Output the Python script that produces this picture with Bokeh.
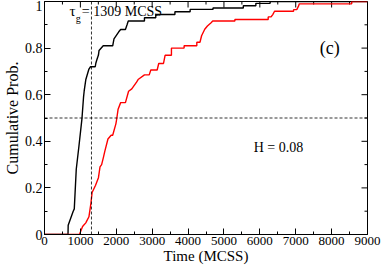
import math
from bokeh.plotting import figure
from bokeh.models import Span, Range1d, FixedTicker, Label
from bokeh.embed import file_html
from bokeh.resources import INLINE

# ---- data ----
black_t = [0, 655, 660, 800, 830, 885, 960, 1043, 1088, 1105, 1150, 1238, 1283, 1414,
           1430, 1459, 1503, 1520, 1636, 1900, 1936, 2069, 2122, 2255, 2300, 2334,
           2785, 2785, 3100, 3100, 3634, 3634, 4058, 4058, 4695, 4695, 5540, 5540,
           5889, 5889, 6287, 6287, 9000]
black_p = [0, 0, 0.04, 0.10, 0.11, 0.28, 0.38, 0.496, 0.59, 0.615, 0.664, 0.71, 0.72, 0.72,
           0.735, 0.75, 0.77, 0.79, 0.81, 0.81, 0.84, 0.87, 0.88, 0.88, 0.90, 0.916,
           0.916, 0.93, 0.93, 0.944, 0.944, 0.956, 0.956, 0.966, 0.966, 0.972, 0.972, 0.982,
           0.982, 0.992, 0.992, 1.0, 1.0]

red_t = [0, 973, 1061, 1150, 1238, 1290, 1326, 1420, 1503, 1547, 1592, 1640, 1680, 1768,
         1857, 1900, 1989, 2016, 2051, 2122, 2255, 2343, 2432, 2565, 2608, 2785, 2918,
         2962, 3139, 3183, 3316, 3360, 3537, 3537, 3890, 3890, 4244, 4244, 4332, 4377,
         4465, 4540, 4642, 4687, 5305, 5305, 6233, 6233, 6313, 6360, 6410, 6940, 6940,
         7029, 7074, 7100, 8560, 8560, 9000]
red_p = [0, 0, 0.034, 0.05, 0.076, 0.13, 0.18, 0.21, 0.244, 0.29, 0.30, 0.33, 0.357, 0.41,
         0.426, 0.426, 0.475, 0.50, 0.538, 0.566, 0.566, 0.615, 0.625, 0.654, 0.665, 0.685, 0.685,
         0.706, 0.706, 0.734, 0.734, 0.769, 0.769, 0.80, 0.80, 0.81, 0.81, 0.825, 0.825, 0.853,
         0.881, 0.895, 0.909, 0.916, 0.916, 0.923, 0.923, 0.934, 0.934, 0.944, 0.958, 0.958, 0.965,
         0.965, 0.979, 0.99, 0.99, 1.0, 1.0]

x_ticks = [0, 1000, 2000, 3000, 4000, 5000, 6000, 7000, 8000, 9000]
y_ticks = [0, 0.2, 0.4, 0.6, 0.8, 1.0]
y_tick_labels = ["0", "0.2", "0.4", "0.6", "0.8", "1"]

tau_g = 1309
half_level = 0.5
H_value = 0.08
panel_tag = "(c)"

FONT = "Liberation Serif"
X_MIN, X_MAX = x_ticks[0], x_ticks[-1]
Y_MIN, Y_MAX = y_ticks[0], y_ticks[-1]

p = figure(width=382, height=266, x_range=Range1d(X_MIN, X_MAX), y_range=Range1d(Y_MIN, Y_MAX),
           output_backend="svg", toolbar_location=None,
           min_border_left=33, min_border_right=15, min_border_top=1, min_border_bottom=31)
p.xgrid.visible = False
p.ygrid.visible = False
p.outline_line_color = "black"
p.outline_line_width = 1
p.background_fill_color = "white"
p.border_fill_color = "white"

x_minor = [(a + b) / 2 for a, b in zip(x_ticks[:-1], x_ticks[1:])]
y_minor = [round((a + b) / 2, 3) for a, b in zip(y_ticks[:-1], y_ticks[1:])]
xt = FixedTicker(ticks=x_ticks, minor_ticks=x_minor)
yt = FixedTicker(ticks=y_ticks, minor_ticks=y_minor)

def style(ax, size, title_size):
    ax.major_tick_in = 6
    ax.major_tick_out = 0
    ax.minor_tick_in = 3
    ax.minor_tick_out = 0
    ax.axis_line_color = "black"
    ax.major_tick_line_color = "black"
    ax.minor_tick_line_color = "black"
    ax.major_label_text_font = FONT
    ax.major_label_text_color = "black"
    ax.major_label_text_font_size = size
    ax.major_label_standoff = 2
    ax.axis_label_text_font = FONT
    ax.axis_label_text_font_style = "normal"
    ax.axis_label_text_color = "black"
    ax.axis_label_text_font_size = title_size

xa = p.xaxis[0]
xa.ticker = xt
xa.axis_label = "Time (MCSS)"
xa.axis_label_standoff = 0
style(xa, "13px", "15px")

ya = p.yaxis[0]
ya.ticker = yt
ya.axis_label = "Cumulative Prob."
ya.axis_label_standoff = 1
ya.major_label_overrides = {t: s for t, s in zip(y_ticks, y_tick_labels)}
style(ya, "14px", "16px")

# mirrored inward ticks on the top and right edges
p.ray(x=x_ticks, y=[Y_MAX] * len(x_ticks), length=6, length_units="screen",
      angle=-math.pi / 2, line_color="black", line_width=1)
p.ray(x=x_minor, y=[Y_MAX] * len(x_minor), length=3, length_units="screen",
      angle=-math.pi / 2, line_color="black", line_width=1)
p.ray(x=[X_MAX] * len(y_ticks), y=y_ticks, length=6, length_units="screen",
      angle=math.pi, line_color="black", line_width=1)
p.ray(x=[X_MAX] * len(y_minor), y=y_minor, length=3, length_units="screen",
      angle=math.pi, line_color="black", line_width=1)

p.line(black_t, black_p, line_color="black", line_width=1.4)
p.line(red_t, red_p, line_color="#ff0000", line_width=1.4)

p.add_layout(Span(location=tau_g, dimension="height", line_color="black",
                  line_width=1, line_dash="3 2", line_alpha=0.8))
p.add_layout(Span(location=half_level, dimension="width", line_color="black",
                  line_width=1, line_dash="3 2", line_alpha=0.8))

p.add_layout(Label(x=700, y=0.958, text="τ", text_font=FONT, text_font_size="15px",
                   text_baseline="middle", text_align="left", text_color="black"))
p.add_layout(Label(x=870, y=0.925, text="g", text_font=FONT, text_font_size="10px",
                   text_baseline="middle", text_align="left", text_color="black"))
p.add_layout(Label(x=1040, y=0.958, text=f"= {tau_g} MCSS", text_font=FONT,
                   text_font_size="14px", text_baseline="middle", text_align="left",
                   text_color="black"))
p.add_layout(Label(x=7950, y=0.80, text=panel_tag, text_font=FONT, text_font_size="18px",
                   text_baseline="middle", text_align="center", text_color="black"))
p.add_layout(Label(x=5830, y=0.374, text=f"H = {H_value}", text_font=FONT,
                   text_font_size="14px", text_baseline="middle", text_align="left",
                   text_color="black"))

open("out.html", "w").write(file_html(p, INLINE))
